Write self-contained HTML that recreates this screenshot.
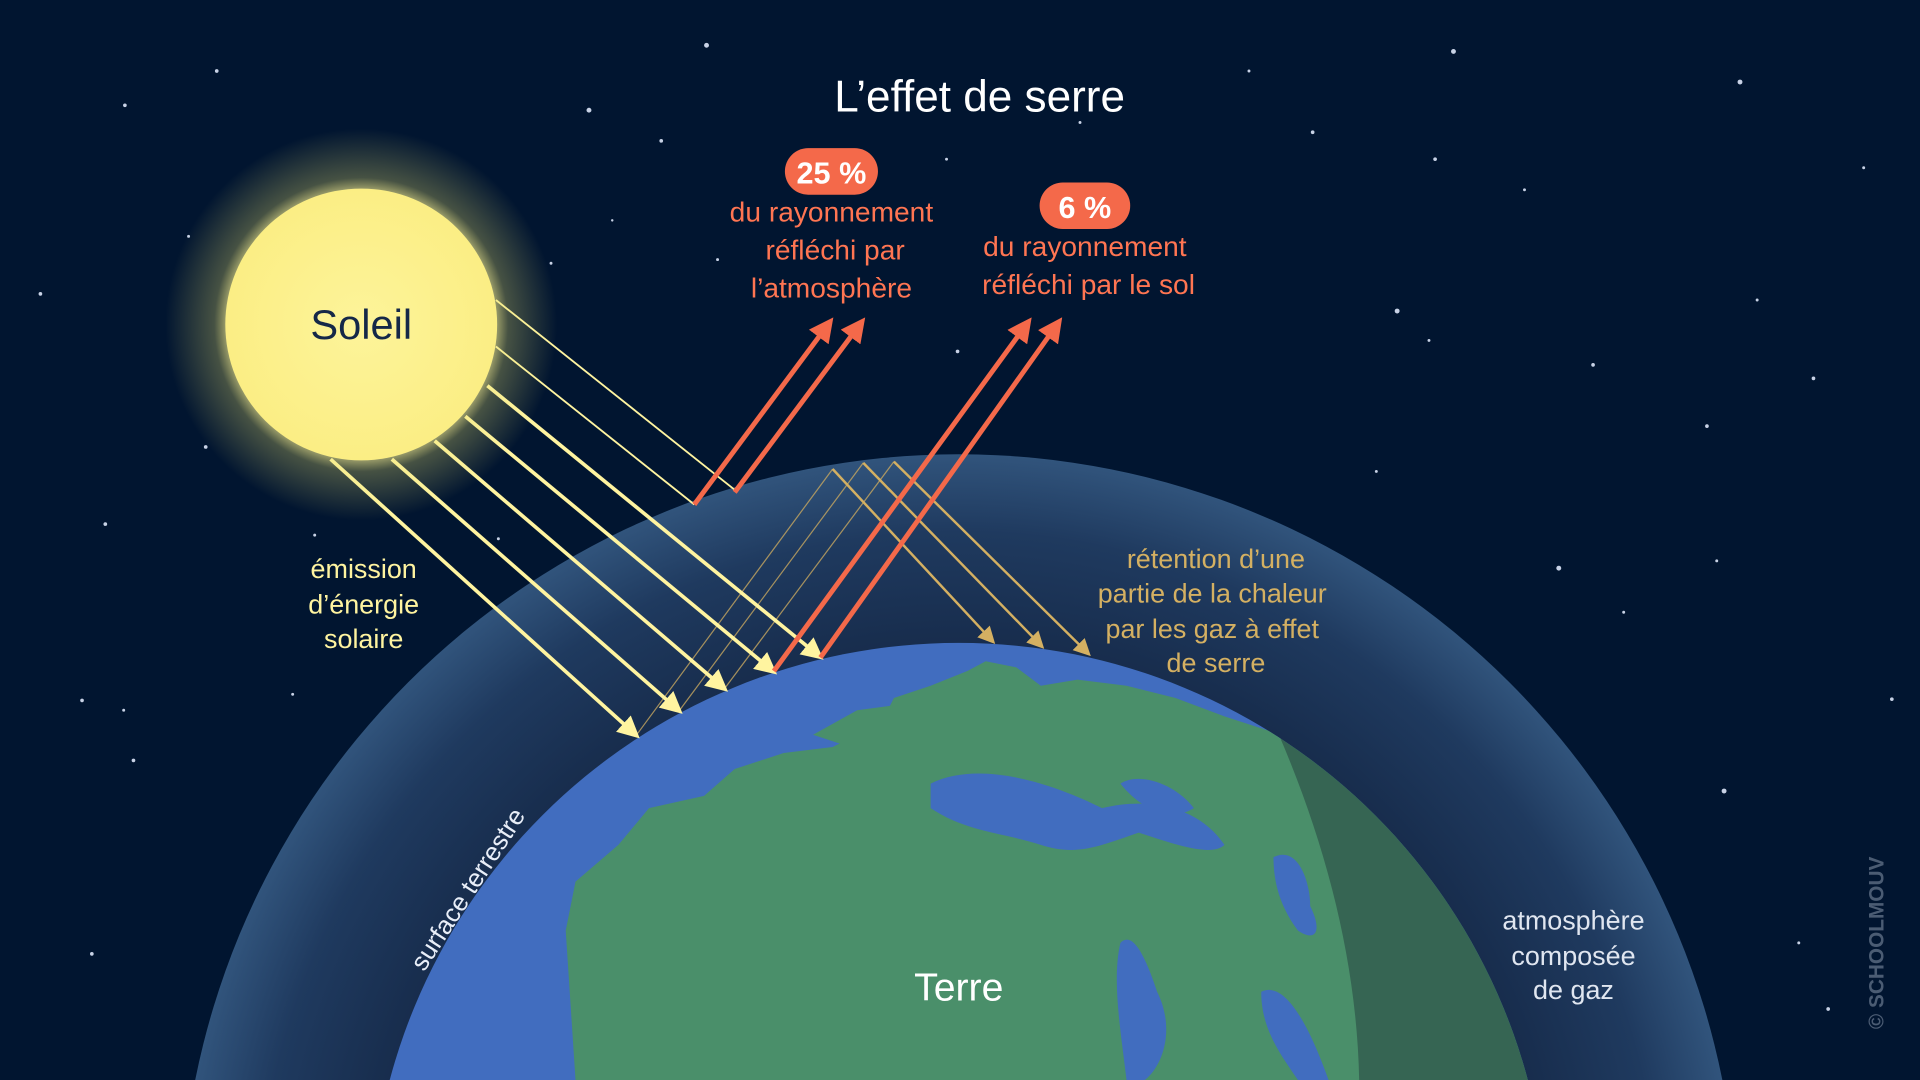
<!DOCTYPE html>
<html><head><meta charset="utf-8"><style>
html,body{margin:0;padding:0;background:#011530;width:1920px;height:1080px;overflow:hidden;position:relative;}
svg{display:block;position:absolute;left:0;top:0;}
text{font-family:"Liberation Sans",sans-serif;}
</style></head><body>
<svg width="1920" height="1080" viewBox="0 0 1568 882" xmlns="http://www.w3.org/2000/svg" overflow="hidden">
<defs>
<radialGradient id="atm" cx="783" cy="1007" r="636" gradientUnits="userSpaceOnUse">
<stop offset="0.75" stop-color="#172c4c"/><stop offset="0.9" stop-color="#1f3a5f"/><stop offset="1" stop-color="#31547c"/>
</radialGradient>
<radialGradient id="glow" cx="295" cy="265" r="160" gradientUnits="userSpaceOnUse">
<stop offset="0.65" stop-color="#fff6a0" stop-opacity="0.85"/><stop offset="0.75" stop-color="#e8e070" stop-opacity="0.3"/><stop offset="1" stop-color="#e8e070" stop-opacity="0"/>
</radialGradient>
<radialGradient id="sun" cx="295" cy="265" r="112" gradientUnits="userSpaceOnUse">
<stop offset="0" stop-color="#fdf49a"/><stop offset="1" stop-color="#fbee84"/>
</radialGradient>
<clipPath id="earthc"><circle cx="783" cy="1006" r="481"/></clipPath>
<clipPath id="frame"><rect width="1568" height="882"/></clipPath>
<marker id="ay" markerWidth="6" markerHeight="6" refX="4" refY="3" orient="auto" markerUnits="strokeWidth"><path d="M0,0 L6,3 L0,6 Z" fill="#fff4a0"/></marker>
<marker id="ag" markerWidth="7" markerHeight="7" refX="5" refY="3.5" orient="auto" markerUnits="strokeWidth"><path d="M0,0 L7,3.5 L0,7 Z" fill="#d4b062"/></marker>
<marker id="ar" markerWidth="5" markerHeight="5" refX="3.5" refY="2.5" orient="auto" markerUnits="strokeWidth"><path d="M0,0 L5,2.5 L0,5 Z" fill="#f4694a"/></marker>
</defs>
<g clip-path="url(#frame)">
<rect width="1568" height="882" fill="#011530"/>
<g fill="#c8d2e6">
<circle cx="177" cy="58" r="1.5"/><circle cx="102" cy="86" r="1.5"/><circle cx="577" cy="37" r="2"/><circle cx="481" cy="90" r="2"/><circle cx="540" cy="115" r="1.5"/><circle cx="1187" cy="42" r="2"/><circle cx="1421" cy="67" r="2"/><circle cx="1072" cy="108" r="1.5"/><circle cx="1172" cy="130" r="1.5"/><circle cx="1245" cy="155" r="1.2"/><circle cx="1020" cy="58" r="1.2"/><circle cx="1141" cy="254" r="2"/><circle cx="1301" cy="298" r="1.5"/><circle cx="1481" cy="309" r="1.5"/><circle cx="1394" cy="348" r="1.5"/><circle cx="1273" cy="464" r="2"/><circle cx="1326" cy="500" r="1.2"/><circle cx="1402" cy="458" r="1.2"/><circle cx="1545" cy="571" r="1.5"/><circle cx="1408" cy="646" r="2"/><circle cx="1469" cy="770" r="1.2"/><circle cx="1493" cy="824" r="1.5"/><circle cx="1376" cy="842" r="1.5"/><circle cx="33" cy="240" r="1.5"/><circle cx="154" cy="193" r="1.2"/><circle cx="168" cy="365" r="1.5"/><circle cx="86" cy="428" r="1.5"/><circle cx="67" cy="572" r="1.5"/><circle cx="101" cy="580" r="1.2"/><circle cx="109" cy="621" r="1.5"/><circle cx="75" cy="779" r="1.5"/><circle cx="409" cy="579" r="2"/><circle cx="239" cy="567" r="1.2"/><circle cx="331" cy="700" r="1.5"/><circle cx="450" cy="215" r="1.2"/><circle cx="586" cy="212" r="1.2"/><circle cx="782" cy="287" r="1.5"/><circle cx="773" cy="130" r="1.2"/><circle cx="882" cy="100" r="1.2"/><circle cx="1124" cy="385" r="1.2"/><circle cx="1167" cy="278" r="1.2"/><circle cx="1114" cy="565" r="1.5"/><circle cx="882" cy="445" r="1.2"/><circle cx="257" cy="437" r="1.2"/><circle cx="407" cy="440" r="1.2"/><circle cx="1522" cy="137" r="1.2"/><circle cx="1435" cy="245" r="1.2"/><circle cx="500" cy="180" r="1"/>
</g>
<circle cx="783" cy="1007" r="636" fill="url(#atm)"/>
<g clip-path="url(#earthc)">
<rect x="300" y="520" width="960" height="362" fill="#416dbf"/>
<path fill="#4a8f6a" d="M470,882 L462,760 L470,720 L505,690 L530,660 L575,650 L600,628 L640,615 L680,610 L700,600 L720,590 L730,570 L760,560 L790,548 L805,540 L830,545 L850,560 L880,555 L920,560 L960,570 L1000,585 L1040,598 L1070,610 L1300,610 L1300,882 Z M664,600 L700,580 L760,572 L800,580 L830,590 L820,610 L760,615 L700,612 Z"/>
<path fill="#416dbf" d="M760,640 C800,620 860,640 900,660 C940,650 980,660 1000,690 C990,700 960,690 930,680 C900,690 880,700 850,690 C820,680 790,680 760,660 Z M915,640 C930,630 960,640 975,660 C960,670 935,665 915,640 Z M1040,700 C1060,690 1070,720 1070,740 C1080,760 1075,770 1060,760 C1045,740 1040,720 1040,700 Z M915,770 C925,760 935,780 945,810 C960,840 950,870 935,882 L920,882 C915,840 908,800 915,770 Z M1030,810 C1050,800 1070,840 1085,882 L1060,882 C1045,860 1030,840 1030,810 Z"/>
<path fill="#26443f" fill-opacity="0.55" d="M1040,590 C1080,680 1108,780 1110,882 L1300,882 L1300,520 Z"/>
</g>
<g stroke="#c8a860" stroke-width="1" fill="none" opacity="0.8">
<line x1="520" y1="600" x2="680" y2="383"/><line x1="555" y1="580" x2="705" y2="378"/><line x1="592" y1="562" x2="730" y2="377"/>
</g>
<g stroke="#d4b062" stroke-width="2" fill="none">
<line x1="680" y1="383" x2="810" y2="523" marker-end="url(#ag)"/>
<line x1="705" y1="378" x2="850" y2="527" marker-end="url(#ag)"/>
<line x1="730" y1="377" x2="888" y2="533" marker-end="url(#ag)"/>
</g>
<g stroke="#fff4a0" fill="none">
<line x1="405" y1="245" x2="600" y2="400" stroke-width="1.5"/>
<line x1="405" y1="283" x2="567" y2="412" stroke-width="1.5"/>
<line x1="398" y1="315" x2="668" y2="535" stroke-width="3" marker-end="url(#ay)"/>
<line x1="380" y1="340" x2="630" y2="547" stroke-width="3" marker-end="url(#ay)"/>
<line x1="355" y1="360" x2="590" y2="561" stroke-width="3" marker-end="url(#ay)"/>
<line x1="320" y1="375" x2="553" y2="579" stroke-width="3" marker-end="url(#ay)"/>
<line x1="270" y1="375" x2="518" y2="599" stroke-width="3" marker-end="url(#ay)"/>
</g>
<g stroke="#f4694a" stroke-width="4" fill="none">
<line x1="567" y1="412" x2="677" y2="264" marker-end="url(#ar)"/>
<line x1="600" y1="402" x2="703" y2="264" marker-end="url(#ar)"/>
<line x1="632" y1="548" x2="839" y2="264" marker-end="url(#ar)"/>
<line x1="670" y1="537" x2="864" y2="264" marker-end="url(#ar)"/>
</g>
<circle cx="295" cy="265" r="160" fill="url(#glow)"/>
<circle cx="295" cy="265" r="111" fill="url(#sun)"/>
<text x="295" y="277" text-anchor="middle" font-size="34" fill="#152848">Soleil</text>
<text x="800" y="91" text-anchor="middle" font-size="36" fill="#fff">L’effet de serre</text>
<rect x="641" y="121" width="76" height="38" rx="19" fill="#f4694a"/>
<text x="679" y="150" text-anchor="middle" font-size="25" font-weight="bold" fill="#fff">25 %</text>
<rect x="849" y="149" width="74" height="38" rx="19" fill="#f4694a"/>
<text x="886" y="178" text-anchor="middle" font-size="25" font-weight="bold" fill="#fff">6 %</text>
<g font-size="23" fill="#ff7552" text-anchor="middle">
<text x="679" y="181">du rayonnement</text><text x="682" y="212">réfléchi par</text><text x="679" y="243">l’atmosphère</text>
<text x="886" y="209">du rayonnement</text><text x="889" y="240">réfléchi par le sol</text>
</g>
<g font-size="22" fill="#fff4a0" text-anchor="middle">
<text x="297" y="472">émission</text><text x="297" y="501">d’énergie</text><text x="297" y="529">solaire</text>
</g>
<g font-size="22" fill="#d4b062" text-anchor="middle">
<text x="993" y="464">rétention d’une</text><text x="990" y="492">partie de la chaleur</text><text x="990" y="521">par les gaz à effet</text><text x="993" y="549">de serre</text>
</g>
<g font-size="22" fill="#e0e6f0" text-anchor="middle">
<text x="1285" y="759">atmosphère</text><text x="1285" y="788">composée</text><text x="1285" y="816">de gaz</text>
</g>
<text x="783" y="817" text-anchor="middle" font-size="32" fill="#fff">Terre</text>
<text transform="translate(388,730) rotate(-57)" text-anchor="middle" font-size="21" fill="#e8eef8">surface terrestre</text>
<text transform="translate(1538,770) rotate(-90)" text-anchor="middle" font-size="17" font-weight="bold" fill="#6b7a90" opacity="0.7">© SCHOOLMOUV</text>
</g>
</svg>
</body></html>
